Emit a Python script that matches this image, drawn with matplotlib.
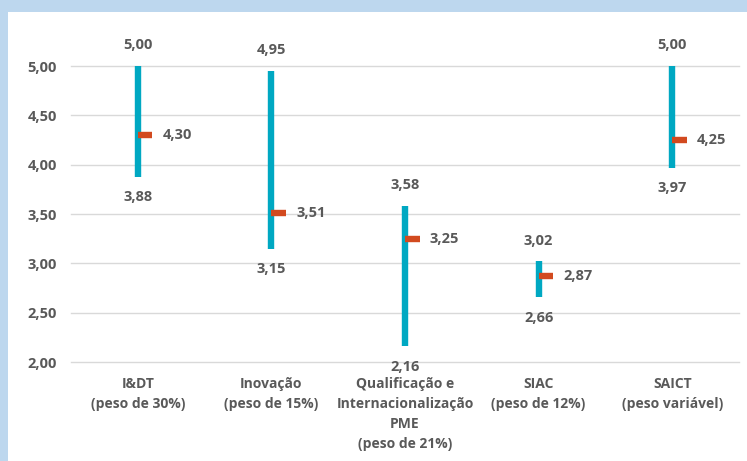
import matplotlib
matplotlib.use("Agg")
import matplotlib.pyplot as plt
from matplotlib.patches import Rectangle

categories = ["I&DT\n(peso de 30%)", "Inovação\n(peso de 15%)",
              "Qualificação e\nInternacionalização\nPME\n(peso de 21%)",
              "SIAC\n(peso de 12%)", "SAICT\n(peso variável)"]
low = [3.88, 3.15, 2.16, 2.66, 3.97]
high = [5.00, 4.95, 3.58, 3.02, 5.00]
mean = [4.30, 3.51, 3.25, 2.87, 4.25]
yticks = [2.0, 2.5, 3.0, 3.5, 4.0, 4.5, 5.0]

def fmt(v):
    return f"{v:.2f}".replace(".", ",")

TEXT = "#595959"
TEAL = "#00A8C2"
RED = "#D24A1F"
WEIGHT = "bold"

plt.rcParams["font.family"] = ["Open Sans", "DejaVu Sans"]

fig = plt.figure(figsize=(7.47, 4.61), dpi=100)
fig.patch.set_facecolor("#BDD7EE")
panel = Rectangle((8 / 747, 0), 1, 1 - 12 / 461, transform=fig.transFigure,
                  facecolor="white", edgecolor="none", zorder=-10)
fig.add_artist(panel)

ax = fig.add_axes([71 / 747, 99 / 461, 668 / 747, 296 / 461])
ax.set_facecolor("none")
ax.set_xlim(-0.5, len(categories) - 0.5)
ax.set_ylim(2.0, 5.0)
ax.set_yticks(yticks)
ax.set_yticklabels([fmt(v) for v in yticks], fontsize=10.5, color=TEXT, fontweight=WEIGHT)
ax.set_xticks(range(len(categories)))
ax.set_xticklabels(categories, fontsize=10, color=TEXT, fontweight=WEIGHT, linespacing=1.55)
ax.tick_params(axis="y", length=0, pad=10)
ax.tick_params(axis="x", length=0, pad=11)
for s in ax.spines.values():
    s.set_visible(False)
ax.grid(axis="y", color="#D9D9D9", linewidth=1, clip_on=False)
ax.set_axisbelow(True)

for i in range(len(categories)):
    ax.vlines(i, low[i], high[i], color=TEAL, linewidth=4.6, zorder=3)
    ax.plot([i, i + 0.11], [mean[i], mean[i]], color=RED, linewidth=4.6,
            solid_capstyle="butt", zorder=4)
    ax.annotate(fmt(high[i]), (i, high[i]), xytext=(0, 15), textcoords="offset points",
                ha="center", va="center", fontsize=10.5, color=TEXT,
                fontweight=WEIGHT, annotation_clip=False)
    ax.annotate(fmt(low[i]), (i, low[i]), xytext=(0, -15), textcoords="offset points",
                ha="center", va="center", fontsize=10.5, color=TEXT,
                fontweight=WEIGHT, annotation_clip=False)
    ax.annotate(fmt(mean[i]), (i, mean[i]), xytext=(18, 0), textcoords="offset points",
                ha="left", va="center", fontsize=10.5, color=TEXT,
                fontweight=WEIGHT, annotation_clip=False)

fig.savefig("out.png", dpi=100)
